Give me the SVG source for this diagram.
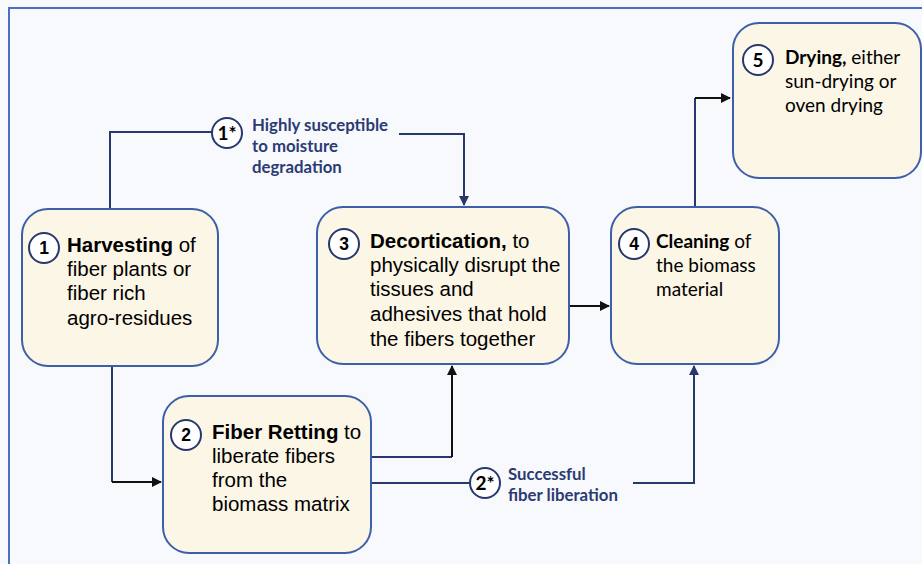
<svg xmlns="http://www.w3.org/2000/svg" width="922" height="564" viewBox="0 0 922 564">
<defs>
<style>
.node{fill:#fcf6e6;stroke:#3d5fa9;stroke-width:2}
.num{fill:#fff;stroke:#26386e;stroke-width:2}
.numt{font-family:"Liberation Sans",Arial,sans-serif;font-weight:bold;font-size:17.5px;fill:#000;text-anchor:middle}
.numc{font-family:Lato,"Liberation Sans",sans-serif;font-weight:bold;font-size:19px;fill:#000;text-anchor:middle}
.ta{font-family:"Liberation Sans",Arial,sans-serif;font-size:20.5px;fill:#000}
.tc{font-family:Lato,"Liberation Sans",sans-serif;font-size:19px;fill:#000}
.lab{font-family:Lato,"Liberation Sans",sans-serif;font-weight:bold;font-size:16.8px;fill:#2b3b73}
.b{font-weight:bold}
.cn{fill:none;stroke:#26386e;stroke-width:2}
.ck{fill:none;stroke:#111;stroke-width:2}
</style>
<marker id="ak" viewBox="0 0 10 10" refX="9" refY="5" markerWidth="5" markerHeight="5" orient="auto" markerUnits="strokeWidth">
<path d="M0,0 L10,5 L0,10 z" fill="#111"/>
</marker>
<marker id="an" viewBox="0 0 10 10" refX="9" refY="5" markerWidth="5" markerHeight="5" orient="auto" markerUnits="strokeWidth">
<path d="M0,0 L10,5 L0,10 z" fill="#26386e"/>
</marker>
</defs>
<rect x="0" y="0" width="922" height="564" fill="#f8f9fc"/>
<path d="M9,580 V8 H940" fill="none" stroke="#4a6fc4" stroke-width="2"/>

<g id="connectors">
<path class="cn" d="M110,209 V132 H212"/>
<path class="cn" d="M399,134 H464 V205" marker-end="url(#an)"/>
<path class="cn" d="M112,366 V482"/>
<path class="ck" d="M112,482 H161" marker-end="url(#ak)"/>
<path class="cn" d="M371,457 H452"/>
<path class="ck" d="M452,457 V366" marker-end="url(#ak)"/>
<path class="ck" d="M569,306 H609" marker-end="url(#ak)"/>
<path class="cn" d="M371,483 H470"/>
<path class="cn" d="M633,483 H694 V366" marker-end="url(#an)"/>
<path class="cn" d="M695,207 V98"/>
<path class="ck" d="M695,98 H730" marker-end="url(#ak)"/>
</g>

<g id="label1">
<circle class="num" cx="227" cy="133" r="15"/>
<text class="numc" x="227" y="140">1*</text>
<text class="lab" x="252"><tspan x="252" y="131">Highly susceptible</tspan><tspan x="252" y="152">to moisture</tspan><tspan x="252" y="173">degradation</tspan></text>
</g>

<g id="label2">
<circle class="num" cx="485" cy="483" r="15"/>
<text class="numc" x="485" y="490">2*</text>
<text class="lab" x="508"><tspan x="508" y="480">Successful</tspan><tspan x="508" y="501">fiber liberation</tspan></text>
</g>

<g id="node1">
<rect class="node" x="22" y="209" width="196" height="157" rx="26"/>
<circle class="num" cx="44" cy="248" r="15"/>
<text class="numt" x="44" y="254">1</text>
<text class="ta"><tspan x="67" y="252"><tspan class="b">Harvesting</tspan> of</tspan><tspan x="67" y="276">fiber plants or</tspan><tspan x="67" y="300">fiber rich</tspan><tspan x="67" y="325">agro-residues</tspan></text>
</g>

<g id="node2">
<rect class="node" x="163" y="396" width="208" height="157" rx="26"/>
<circle class="num" cx="186" cy="435" r="15"/>
<text class="numt" x="186" y="441">2</text>
<text class="ta"><tspan x="212" y="439"><tspan class="b">Fiber Retting</tspan> to</tspan><tspan x="212" y="463">liberate fibers</tspan><tspan x="212" y="487">from the</tspan><tspan x="212" y="511">biomass matrix</tspan></text>
</g>

<g id="node3">
<rect class="node" x="317" y="207" width="252" height="157" rx="26"/>
<circle class="num" cx="344" cy="244" r="15"/>
<text class="numt" x="344" y="250">3</text>
<text class="ta"><tspan x="370" y="248"><tspan class="b">Decortication,</tspan> to</tspan><tspan x="370" y="272">physically disrupt the</tspan><tspan x="370" y="296">tissues and</tspan><tspan x="370" y="321">adhesives that hold</tspan><tspan x="370" y="346">the fibers together</tspan></text>
</g>

<g id="node4">
<rect class="node" x="611" y="207" width="168" height="157" rx="26"/>
<circle class="num" cx="634" cy="244" r="15"/>
<text class="numt" x="634" y="250">4</text>
<text class="tc"><tspan x="656" y="248"><tspan class="b">Cleaning</tspan> of</tspan><tspan x="656" y="272">the biomass</tspan><tspan x="656" y="296">material</tspan></text>
</g>

<g id="node5">
<rect class="node" x="733" y="23" width="188" height="155" rx="26"/>
<circle class="num" cx="758" cy="60" r="15"/>
<text class="numc" x="758" y="67">5</text>
<text class="tc"><tspan x="785" y="64"><tspan class="b">Drying,</tspan> either</tspan><tspan x="785" y="88">sun-drying or</tspan><tspan x="785" y="112">oven drying</tspan></text>
</g>
</svg>
